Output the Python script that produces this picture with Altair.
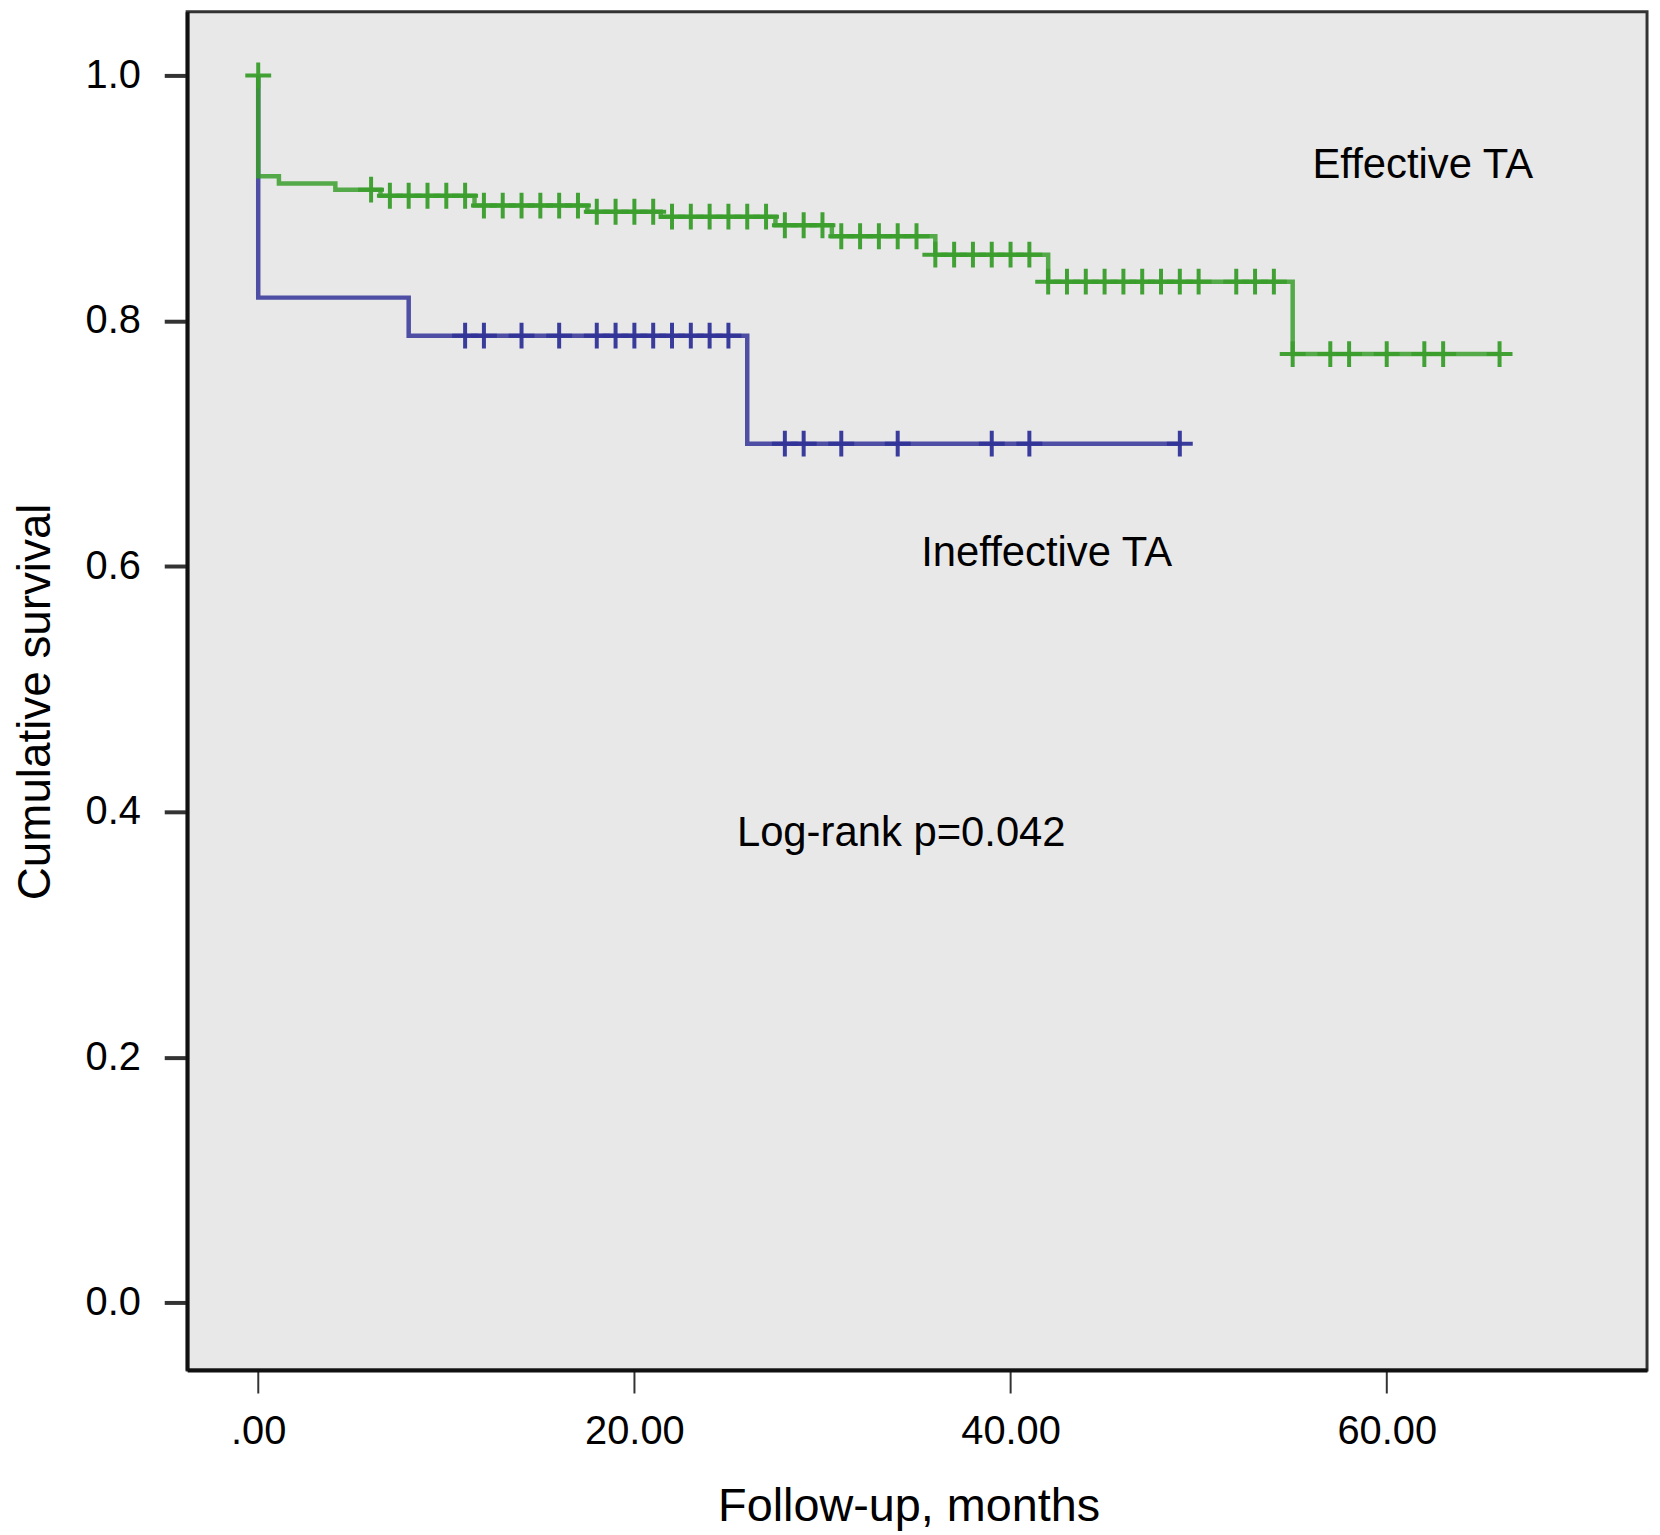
import altair as alt
import pandas as pd

# Kaplan-Meier steps (months, cumulative survival)
green_times = [0.0, 0.0, 1.1, 4.1, 6.5, 11.5, 17.5, 21.4, 27.5, 30.5, 36.0, 42.0, 55.0, 66.0]
green_surv = [1.0, 0.918, 0.912, 0.907, 0.902, 0.894, 0.889, 0.885, 0.878, 0.869, 0.854, 0.832, 0.773, 0.773]
green_censor = [6, 7, 8, 9, 10, 11, 12, 13, 14, 15, 16, 17, 18, 19, 20, 21, 22, 23, 24, 25,
                26, 27, 28, 29, 30, 31, 32, 33, 34, 35, 36, 37, 38, 39, 40, 41, 42, 43, 44,
                45, 46, 47, 48, 49, 50, 52, 53, 54, 55, 57, 58, 60, 62, 63, 66]
green_censor_start = 1.0

blue_times = [0.0, 0.0, 8.0, 26.0, 49.1]
blue_surv = [1.0, 0.819, 0.788, 0.700, 0.700]
blue_censor = [11, 12, 14, 16, 18, 19, 20, 21, 22, 23, 24, 25, 28, 29, 31, 34, 39, 41, 49]

groups = ['Effective TA', 'Ineffective TA']
colors = ['#3a9e2c', '#313398']

notes = ['Effective TA', 'Ineffective TA', 'Log-rank p=0.042']
note_x = [56.05, 35.25, 25.45]
note_y = [0.927, 0.611, 0.383]


def level(times, surv, t):
    val = surv[0]
    for tt, ss in zip(times, surv):
        if tt <= t:
            val = ss
    return val


green = pd.DataFrame({'month': green_times, 'surv': green_surv, 'group': groups[0],
                      'idx': range(len(green_times))})
blue = pd.DataFrame({'month': blue_times, 'surv': blue_surv, 'group': groups[1],
                     'idx': range(len(blue_times))})

cens = pd.DataFrame({
    'month': blue_censor + [0.0] + green_censor,
    'surv': [level(blue_times, blue_surv, t) for t in blue_censor]
            + [green_censor_start] + [level(green_times, green_surv, t) for t in green_censor],
    'group': [groups[1]] * len(blue_censor) + [groups[0]] * (len(green_censor) + 1),
})

txt = pd.DataFrame({'label': notes, 'month': note_x, 'surv': note_y})

xs = alt.Scale(domain=[-3.78, 73.84], nice=False, zero=False)
ys = alt.Scale(domain=[-0.055, 1.052], nice=False, zero=False)
cs = alt.Scale(domain=groups, range=colors)

xaxis = alt.Axis(values=[0, 20, 40, 60],
                 labelExpr="datum.value == 0 ? '.00' : format(datum.value, '.2f')",
                 title='Follow-up, months', grid=False,
                 domain=True, domainColor='#111', domainWidth=4,
                 tickSize=23, tickWidth=2, tickColor='#333',
                 labelFontSize=40, labelPadding=19, labelColor='black',
                 titleFontSize=47, titleFontWeight='normal', titleColor='black',
                 titleX=725, titleY=114, titleBaseline='top')
yaxis = alt.Axis(values=[0, 0.2, 0.4, 0.6, 0.8, 1.0], format='.1f',
                 title='Cumulative survival', grid=False,
                 domain=True, domainColor='#111', domainWidth=4,
                 tickSize=23, tickWidth=4, tickColor='#333',
                 labelFontSize=40, labelPadding=24, labelColor='black',
                 titleFontSize=46, titleFontWeight='normal', titleColor='black',
                 titleX=-138, titleY=693, titleBaseline='alphabetic', titleAngle=270)

base_x = alt.X('month:Q', scale=xs, axis=xaxis)
base_y = alt.Y('surv:Q', scale=ys, axis=yaxis)


def step_layer(df):
    return alt.Chart(df).mark_line(interpolate='step-after', strokeWidth=4.5, opacity=0.85).encode(
        x=base_x, y=base_y,
        color=alt.Color('group:N', scale=cs, legend=None),
        order='idx:Q',
    )


marks = alt.Chart(cens).mark_point(
    shape='M-1,0L1,0M0,-1L0,1', size=676, filled=False, strokeWidth=4, opacity=0.95
).encode(
    x='month:Q', y='surv:Q',
    color=alt.Color('group:N', scale=cs, legend=None),
)

labels = alt.Chart(txt).mark_text(
    align='left', baseline='middle', fontSize=42, color='black', font='Liberation Sans'
).encode(x='month:Q', y='surv:Q', text='label:N')

chart = (step_layer(blue) + step_layer(green) + marks + labels).properties(
    width=1467, height=1365,
    autosize=alt.AutoSizeParams(type='none'),
    padding={'left': 180, 'top': 0, 'right': 5, 'bottom': 172},
).configure(
    font='Liberation Sans',
).configure_view(
    fill='#e8e8e8', stroke='#333', strokeWidth=3,
)

chart.save("out.html", embed_options={"renderer": "svg", "actions": False})
